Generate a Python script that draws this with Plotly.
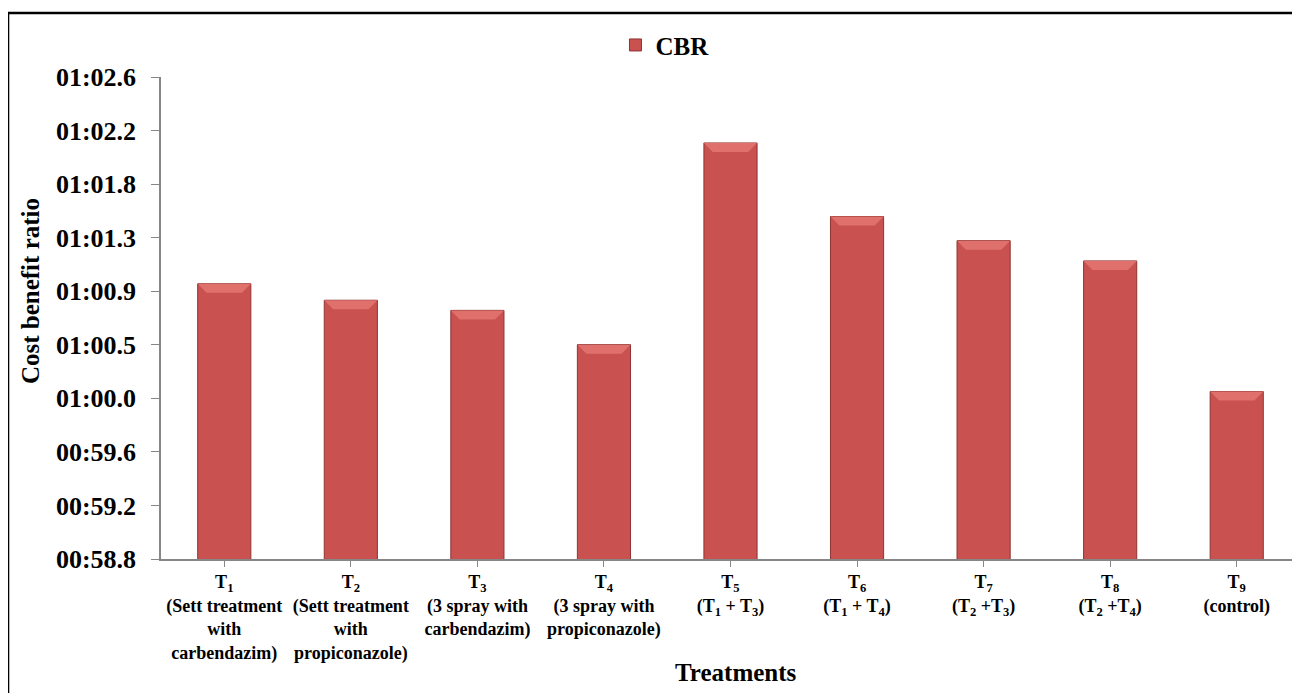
import numpy as np
import plotly.graph_objects as go

# ---- data ----
categories = [
    "T<sub>1</sub><br>(Sett treatment<br>with<br>carbendazim)",
    "T<sub>2</sub><br>(Sett treatment<br>with<br>propiconazole)",
    "T<sub>3</sub><br>(3 spray with<br>carbendazim)",
    "T<sub>4</sub><br>(3 spray with<br>propiconazole)",
    "T<sub>5</sub><br>(T<sub>1</sub> + T<sub>3</sub>)",
    "T<sub>6</sub><br>(T<sub>1</sub> + T<sub>4</sub>)",
    "T<sub>7</sub><br>(T<sub>2</sub> +T<sub>3</sub>)",
    "T<sub>8</sub><br>(T<sub>2</sub> +T<sub>4</sub>)",
    "T<sub>9</sub><br>(control)",
]
cbr_values = [60.97, 60.84, 60.76, 60.49, 62.08, 61.50, 61.31, 61.15, 60.12]
y_tick_labels = ["00:58.8", "00:59.2", "00:59.6", "01:00.0", "01:00.5",
                 "01:00.9", "01:01.3", "01:01.8", "01:02.2", "01:02.6"]
y_min, y_max = 58.8, 62.6

serif = "Liberation Serif"
x_idx = list(range(len(categories)))
bar_w = 0.42

fig = go.Figure()
fig.add_trace(go.Bar(
    x=x_idx, y=cbr_values, name="CBR",
    marker=dict(color="#C9514F", line=dict(color="#8E3433", width=1)),
    width=bar_w,
))

# bevel highlight on top of each bar (derived from data)
dy = (y_max - y_min) * 9 / 482
dx = 0.07
shapes = []
for xi, v in zip(x_idx, cbr_values):
    x0, x1 = xi - bar_w / 2, xi + bar_w / 2
    shapes.append(dict(
        type="path", xref="x", yref="y",
        path=f"M {x0},{v} L {x1},{v} L {x1-dx},{v-dy} L {x0+dx},{v-dy} Z",
        fillcolor="#DF706B", line=dict(width=0), layer="above"))
shapes.append(dict(type="rect", xref="paper", yref="paper",
                   x0=-0.1343, x1=1.05, y0=-0.5, y1=1.1328,
                   line=dict(color="black", width=2.5),
                   fillcolor="rgba(0,0,0,0)", layer="above"))

fig.update_layout(
    width=1300, height=693,
    margin=dict(l=153, r=8, t=69, b=142),
    paper_bgcolor="white", plot_bgcolor="white",
    showlegend=True,
    legend=dict(orientation="h", x=0.399, xanchor="left", y=1.066, yanchor="middle",
                font=dict(family=serif, size=25, color="black", weight="bold"),
                itemwidth=30, bgcolor="rgba(0,0,0,0)"),
    xaxis=dict(
        range=[-0.5, len(categories) - 0.5],
        tickmode="array", tickvals=x_idx, ticktext=categories,
        tickson="boundaries", ticks="outside", ticklen=6, tickcolor="#868686",
        showline=True, linecolor="#868686", linewidth=1.5,
        showgrid=False, zeroline=False,
        tickfont=dict(family=serif, size=18, color="black", weight="bold"),
    ),
    yaxis=dict(
        range=[y_min, y_max],
        tickmode="array",
        tickvals=list(np.linspace(y_min, y_max, len(y_tick_labels))),
        ticktext=y_tick_labels,
        ticks="outside", ticklen=8, tickcolor="#868686",
        ticklabelstandoff=10,
        showline=True, linecolor="#868686", linewidth=1.5,
        showgrid=False, zeroline=False,
        tickfont=dict(family=serif, size=26, color="black", weight="bold"),
    ),
    annotations=[
        dict(text="Cost benefit ratio", xref="paper", yref="paper",
             x=-0.1145, y=0.555, textangle=-90, showarrow=False,
             xanchor="center", yanchor="middle",
             font=dict(family=serif, size=25, color="black", weight="bold")),
        dict(text="Treatments", xref="paper", yref="paper",
             x=0.505, y=-0.2365, showarrow=False,
             xanchor="center", yanchor="middle",
             font=dict(family=serif, size=25, color="black", weight="bold")),
    ],
    shapes=shapes,
)

fig.write_html("out.html")
